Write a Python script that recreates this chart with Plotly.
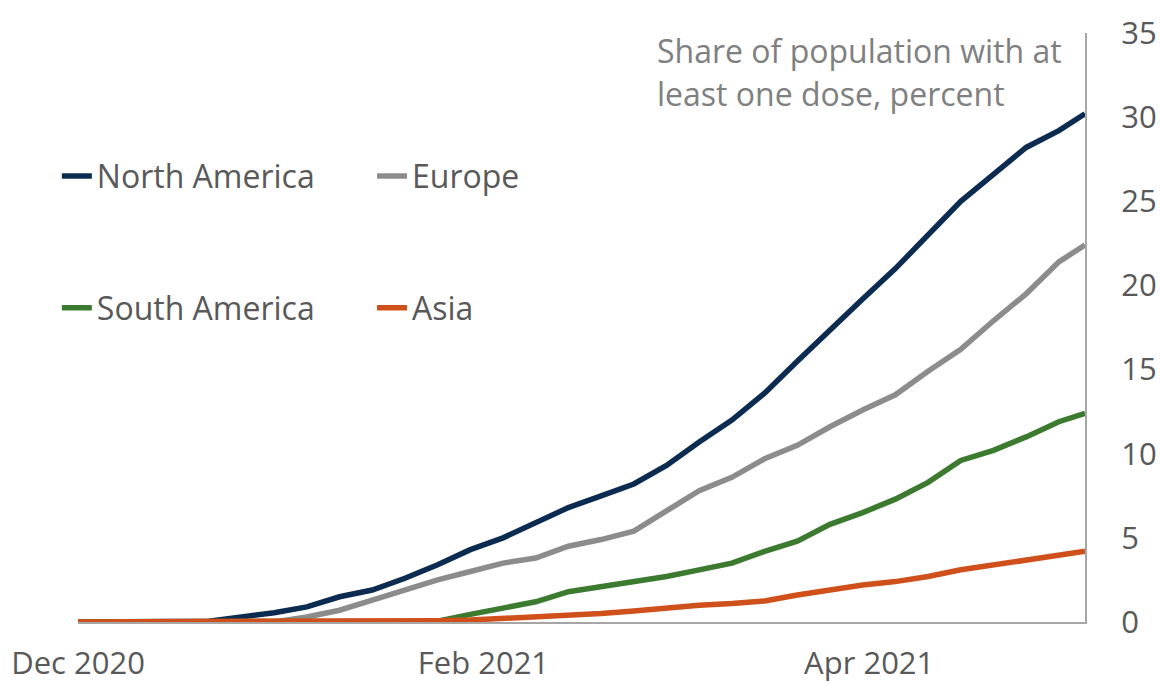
import plotly.graph_objects as go

dates = ["2020-12-01", "2020-12-06", "2020-12-11", "2020-12-16", "2020-12-21", "2020-12-26",
         "2020-12-31", "2021-01-05", "2021-01-10", "2021-01-15", "2021-01-20", "2021-01-25",
         "2021-01-30", "2021-02-04", "2021-02-09", "2021-02-14", "2021-02-19", "2021-02-24",
         "2021-03-01", "2021-03-06", "2021-03-11", "2021-03-16", "2021-03-21", "2021-03-26",
         "2021-03-31", "2021-04-05", "2021-04-10", "2021-04-15", "2021-04-20", "2021-04-25",
         "2021-04-30", "2021-05-04"]

north_america = [0, 0, 0, 0, 0.05, 0.3, 0.55, 0.9, 1.5, 1.9, 2.6, 3.4, 4.3, 5.0, 5.9, 6.8,
                 7.5, 8.2, 9.3, 10.7, 12.0, 13.6, 15.5, 17.4, 19.2, 21.0, 23.0, 25.0, 26.6,
                 28.2, 29.2, 30.2]
europe = [0, 0, 0, 0, 0, 0, 0, 0.3, 0.7, 1.3, 1.9, 2.5, 3.0, 3.5, 3.8, 4.5, 4.9, 5.4, 6.6,
          7.8, 8.6, 9.7, 10.5, 11.6, 12.6, 13.5, 14.9, 16.2, 17.9, 19.5, 21.4, 22.4]
south_america = [0, 0, 0, 0, 0, 0, 0, 0, 0, 0, 0, 0.05, 0.45, 0.8, 1.2, 1.8, 2.1, 2.4, 2.7,
                 3.1, 3.5, 4.2, 4.8, 5.8, 6.5, 7.3, 8.3, 9.6, 10.2, 11.0, 11.9, 12.4]
asia = [0, 0, 0, 0, 0, 0, 0, 0, 0, 0.02, 0.05, 0.08, 0.12, 0.2, 0.3, 0.4, 0.5, 0.65, 0.85,
        1.0, 1.1, 1.25, 1.6, 1.9, 2.2, 2.4, 2.7, 3.1, 3.4, 3.7, 4.0, 4.2]

series = [
    ("North America", north_america, "#0b2c50", "legend"),
    ("Europe", europe, "#8c8c8c", "legend2"),
    ("South America", south_america, "#3b7a2f", "legend3"),
    ("Asia", asia, "#d0501c", "legend4"),
]

x_ticks = ["2020-12-01", "2021-02-01", "2021-04-01"]
y_ticks = [0, 5, 10, 15, 20, 25, 30, 35]

FONT = "Open Sans"
TXT = "#595959"
FS = 32

fig = go.Figure()
for name, vals, color, leg in series:
    fig.add_trace(go.Scatter(x=dates, y=vals, mode="lines", name=name, showlegend=True,
                             line=dict(color=color, width=5.5), legend=leg))

legend_common = dict(orientation="v", xanchor="left", yanchor="middle",
                     font=dict(family=FONT, size=FS, color=TXT),
                     bgcolor="rgba(0,0,0,0)", itemwidth=30)

fig.update_layout(
    width=1160, height=684,
    showlegend=True,
    margin=dict(l=78, r=75, t=33, b=62, autoexpand=False),
    paper_bgcolor="white", plot_bgcolor="white",
    font=dict(family=FONT, color=TXT),
    legend=dict(x=-0.021, y=0.757, **legend_common),
    legend2=dict(x=0.292, y=0.757, **legend_common),
    legend3=dict(x=-0.021, y=0.533, **legend_common),
    legend4=dict(x=0.292, y=0.533, **legend_common),
    xaxis=dict(range=["2020-12-01", "2021-05-04"], tickvals=x_ticks, tickformat="%b %Y",
               showgrid=False, zeroline=False, showline=True, linecolor="#a6a6a6",
               linewidth=2, ticks="", tickfont=dict(family=FONT, size=31, color=TXT),
               ticklabelstandoff=13, automargin=False),
    yaxis=dict(range=[0, 35], tickvals=y_ticks, side="right", showgrid=False,
               zeroline=False, showline=True, linecolor="#a6a6a6", linewidth=2,
               ticks="", tickfont=dict(family=FONT, size=31, color=TXT),
               ticklabelstandoff=28, automargin=False),
    annotations=[
        dict(text="Share of population with at", xref="paper", yref="paper",
             x=0.573, y=0.971, xanchor="left", yanchor="middle", showarrow=False,
             font=dict(family=FONT, size=FS, color="#808080")),
        dict(text="least one dose, percent", xref="paper", yref="paper",
             x=0.573, y=0.898, xanchor="left", yanchor="middle", showarrow=False,
             font=dict(family=FONT, size=FS, color="#808080")),
    ],
)

fig.write_html("out.html")
